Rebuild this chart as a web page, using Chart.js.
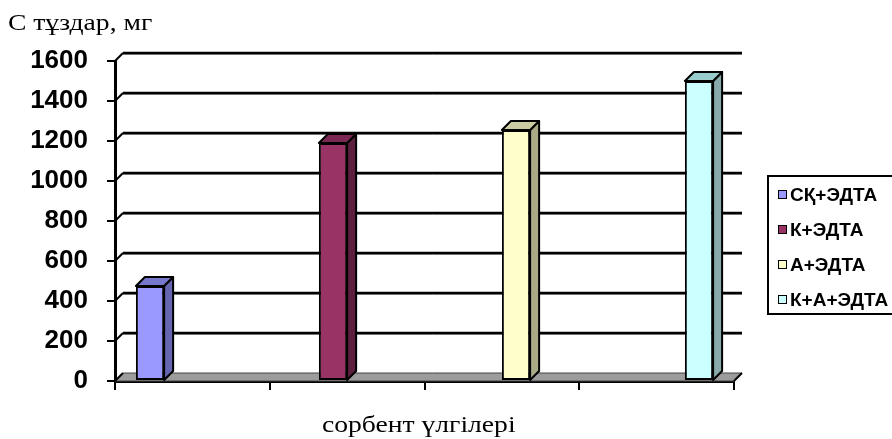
<!DOCTYPE html>
<html lang="kk">
<head>
  <meta charset="UTF-8">
  <title>С тұздар</title>
  <script src="https://cdn.jsdelivr.net/npm/chart.js"></script>
  <style>
    body {
      margin: 0;
      background: #ffffff;
    }
    #wrap {
      position: relative;
      width: 892px;
      height: 439px;
      overflow: hidden;
      background: #ffffff;
    }
    #ytitle, #xtitle {
      position: absolute;
      font-family: "Liberation Serif", "Times New Roman", serif;
      font-size: 24px;
      color: #000;
      white-space: nowrap;
      transform: scaleX(1.15);
      transform-origin: left top;
    }
    #ytitle { left: 8px; top: 9px; }
    #xtitle { left: 322px; top: 411px; }
    #legend {
      position: absolute;
      left: 767px;
      top: 175px;
      width: 150px;
      height: 136px;
      border: 2px solid #000;
      font-family: "Liberation Sans", Arial, sans-serif;
      font-weight: bold;
      font-size: 19px;
    }
    .item {
      height: 35px;
      line-height: 35px;
      white-space: nowrap;
    }
    .sw {
      display: inline-block;
      width: 7px;
      height: 7px;
      border: 1.5px solid #000;
      margin: 0 3px 0 9px;
      vertical-align: 2px;
    }
  </style>
</head>
<body>

<div id="wrap">
  <canvas id="saltChart" width="892" height="439"></canvas>
  <div id="ytitle">С тұздар, мг</div>
  <div id="xtitle">сорбент үлгілері</div>
  <div id="legend"></div>
</div>

<script>
  // data
  const categories = ['', '', '', ''];
  const seriesNames = ['СҚ+ЭДТА', 'К+ЭДТА', 'А+ЭДТА', 'К+А+ЭДТА'];
  const saltValues = [475, 1190, 1255, 1500];

  const frontColors = ['#9999FF', '#993366', '#FFFFCC', '#CCFFFF'];
  const sideColors = ['#6666B0', '#5C1F3D', '#AAAA88', '#88AAAA'];
  const topColors = ['#7777CC', '#7A2952', '#CCCCA3', '#99CCCC'];
  const depth = 8;

  // legend
  const legend = document.getElementById('legend');
  seriesNames.forEach((name, i) => {
    const row = document.createElement('div');
    row.className = 'item';
    const sw = document.createElement('span');
    sw.className = 'sw';
    sw.style.background = frontColors[i];
    row.appendChild(sw);
    row.appendChild(document.createTextNode(name));
    legend.appendChild(row);
  });

  // back wall, floor and bar side/top faces
  const fake3d = {
    id: 'fake3d',
    beforeDatasetsDraw(chart) {
      const ctx = chart.ctx;
      const a = chart.chartArea;
      const y = chart.scales.y;
      ctx.save();
      // floor
      ctx.beginPath();
      ctx.moveTo(a.left, a.bottom);
      ctx.lineTo(a.right, a.bottom);
      ctx.lineTo(a.right + depth, a.bottom - depth);
      ctx.lineTo(a.left + depth, a.bottom - depth);
      ctx.closePath();
      ctx.fillStyle = '#9c9c9c';
      ctx.fill();
      ctx.strokeStyle = '#444';
      ctx.lineWidth = 1;
      ctx.stroke();
      ctx.beginPath();
      ctx.moveTo(a.right, a.bottom);
      ctx.lineTo(a.right + depth, a.bottom - depth);
      ctx.strokeStyle = '#000';
      ctx.lineWidth = 2;
      ctx.stroke();
      // grid lines on back wall
      y.ticks.forEach(t => {
        const py = y.getPixelForValue(t.value);
        if (t.value > 0) {
          ctx.beginPath();
          ctx.moveTo(a.left + depth, py - depth + 1.5);
          ctx.lineTo(a.right + depth, py - depth + 1.5);
          ctx.strokeStyle = '#999';
          ctx.lineWidth = 1;
          ctx.stroke();
          ctx.beginPath();
          ctx.moveTo(a.left + depth, py - depth);
          ctx.lineTo(a.right + depth, py - depth);
          ctx.strokeStyle = '#000';
          ctx.lineWidth = 2.5;
          ctx.stroke();
        }
        ctx.beginPath();
        ctx.moveTo(a.left, py);
        ctx.lineTo(a.left + depth, py - depth);
        ctx.strokeStyle = '#000';
        ctx.lineWidth = 2;
        ctx.stroke();
      });
      ctx.restore();
    },
    afterDatasetsDraw(chart) {
      const ctx = chart.ctx;
      const d = depth + 1;
      ctx.save();
      ctx.strokeStyle = '#000';
      ctx.lineWidth = 2;
      ctx.lineJoin = 'round';
      chart.data.datasets.forEach((ds, i) => {
        chart.getDatasetMeta(i).data.forEach((bar, j) => {
          if (ds.data[j] == null) return;
          const p = bar.getProps(['x', 'y', 'base', 'width'], true);
          const l = p.x - p.width / 2;
          const r = p.x + p.width / 2;
          // side
          ctx.beginPath();
          ctx.moveTo(r, p.y);
          ctx.lineTo(r + d, p.y - d);
          ctx.lineTo(r + d, p.base - d);
          ctx.lineTo(r, p.base);
          ctx.closePath();
          ctx.fillStyle = sideColors[i];
          ctx.fill();
          ctx.stroke();
          // top
          ctx.beginPath();
          ctx.moveTo(l, p.y);
          ctx.lineTo(l + d, p.y - d);
          ctx.lineTo(r + d, p.y - d);
          ctx.lineTo(r, p.y);
          ctx.closePath();
          ctx.fillStyle = topColors[i];
          ctx.fill();
          ctx.stroke();
        });
      });
      ctx.restore();
    }
  };

  const datasets = seriesNames.map((name, i) => ({
    label: name,
    data: categories.map((c, j) => (j === i ? saltValues[i] : null)),
    backgroundColor: frontColors[i],
    borderColor: '#000',
    borderWidth: 2,
    borderSkipped: false
  }));

  new Chart(document.getElementById('saltChart'), {
    type: 'bar',
    data: { labels: categories, datasets: datasets },
    plugins: [fake3d],
    options: {
      responsive: false,
      animation: false,
      devicePixelRatio: 1,
      categoryPercentage: 0.73,
      barPercentage: 1,
      layout: { padding: { top: 61, right: 158, bottom: 0, left: 0 } },
      plugins: {
        legend: { display: false },
        tooltip: { enabled: false }
      },
      scales: {
        x: {
          afterFit(s) { s.height = 58; },
          ticks: { display: false },
          grid: {
            offset: true,
            drawOnChartArea: false,
            drawTicks: true,
            tickLength: 9,
            color: '#000',
            lineWidth: 2
          },
          border: { color: '#000', width: 3 }
        },
        y: {
          min: 0,
          max: 1600,
          afterFit(s) { s.width = 115; },
          ticks: {
            stepSize: 200,
            padding: 19,
            color: '#000',
            font: { family: '"Liberation Sans", Arial, sans-serif', size: 26, weight: 'bold' },
            callback: v => String(v)
          },
          grid: {
            drawOnChartArea: false,
            tickLength: 8,
            color: '#000',
            lineWidth: 2
          },
          border: { color: '#000', width: 3 }
        }
      }
    }
  });
</script>
</body>
</html>
